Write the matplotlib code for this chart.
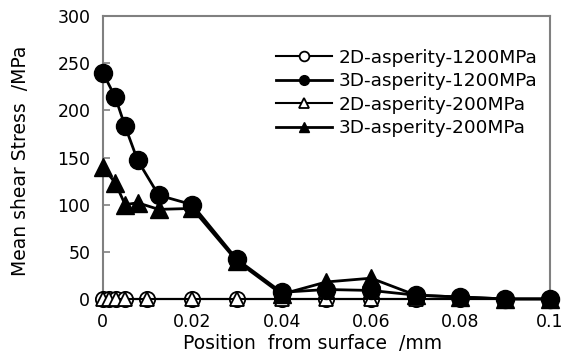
import matplotlib
matplotlib.use("Agg")
import matplotlib.pyplot as plt

plt.rcParams['font.family'] = ['DejaVu Sans']

# Position from surface (mm) and mean shear stress (MPa)
x_2d = [0, 0.0015, 0.003, 0.005, 0.01, 0.02, 0.03, 0.04, 0.05, 0.06, 0.07, 0.08, 0.09, 0.1]
y_2d_1200 = [0, 0, 0, 0, 0, 0, 0, 0, 0, 0, 0, 0, 0, 0]
y_2d_200 = [0, 0, 0, 0, 0, 0, 0, 0, 0, 0, 0, 0, 0, 0]

x_3d = [0, 0.0028, 0.005, 0.0078, 0.0125, 0.02, 0.03, 0.04, 0.05, 0.06, 0.07, 0.08, 0.09, 0.1]
y_3d_1200 = [240, 214, 183, 147, 110, 100, 42, 7, 10, 9, 4, 2, 0, 0]
y_3d_200 = [140, 123, 100, 102, 95, 96, 40, 5, 18, 22, 4, 2, 0, 0]

labels = ["2D-asperity-1200MPa", "3D-asperity-1200MPa",
          "2D-asperity-200MPa", "3D-asperity-200MPa"]

fig = plt.figure(figsize=(5.71, 3.58), dpi=100)
ax = fig.add_axes([0.180, 0.165, 0.783, 0.790])

ax.plot(x_2d, y_2d_1200, color='black', lw=1.5, marker='o', ms=11,
        mfc='white', mec='black', mew=1.3, label=labels[0], zorder=3)
ax.plot(x_3d, y_3d_1200, color='black', lw=2.0, marker='o', ms=13,
        mfc='black', mec='black', label=labels[1], zorder=5)
ax.plot(x_2d, y_2d_200, color='black', lw=1.5, marker='^', ms=10,
        mfc='white', mec='black', mew=1.3, label=labels[2], zorder=4)
ax.plot(x_3d, y_3d_200, color='black', lw=2.0, marker='^', ms=12.5,
        mfc='black', mec='black', label=labels[3], zorder=6)

ax.set_xlim(0, 0.1)
ax.set_ylim(0, 300)
ax.set_xticks([0, 0.02, 0.04, 0.06, 0.08, 0.1])
ax.set_xticklabels(['0', '0.02', '0.04', '0.06', '0.08', '0.1'])
ax.set_yticks(range(0, 301, 50))

for s in ax.spines.values():
    s.set_color('#808080')
    s.set_linewidth(1.5)
ax.tick_params(axis='y', direction='in', length=5, color='#808080',
               width=1.2, labelsize=12.5, pad=9)
ax.tick_params(axis='x', length=0, labelsize=12.5, pad=10)
for ln in ax.lines:
    ln.set_clip_on(False)

ax.set_xlabel('Position  from surface  /mm', fontsize=13.5)
ax.set_ylabel('Mean shear Stress  /MPa', fontsize=13.5)
ax.xaxis.set_label_coords(0.47, -0.125)
ax.yaxis.set_label_coords(-0.163, 0.49)

leg = ax.legend(loc='upper right', bbox_to_anchor=(1.0, 0.93), frameon=False,
                fontsize=13.3, handlelength=3.0, handletextpad=0.35,
                labelspacing=0.3, borderaxespad=0.3)
for h in leg.legend_handles:
    h.set_markersize(7)

fig.savefig('out.png', dpi=100)
